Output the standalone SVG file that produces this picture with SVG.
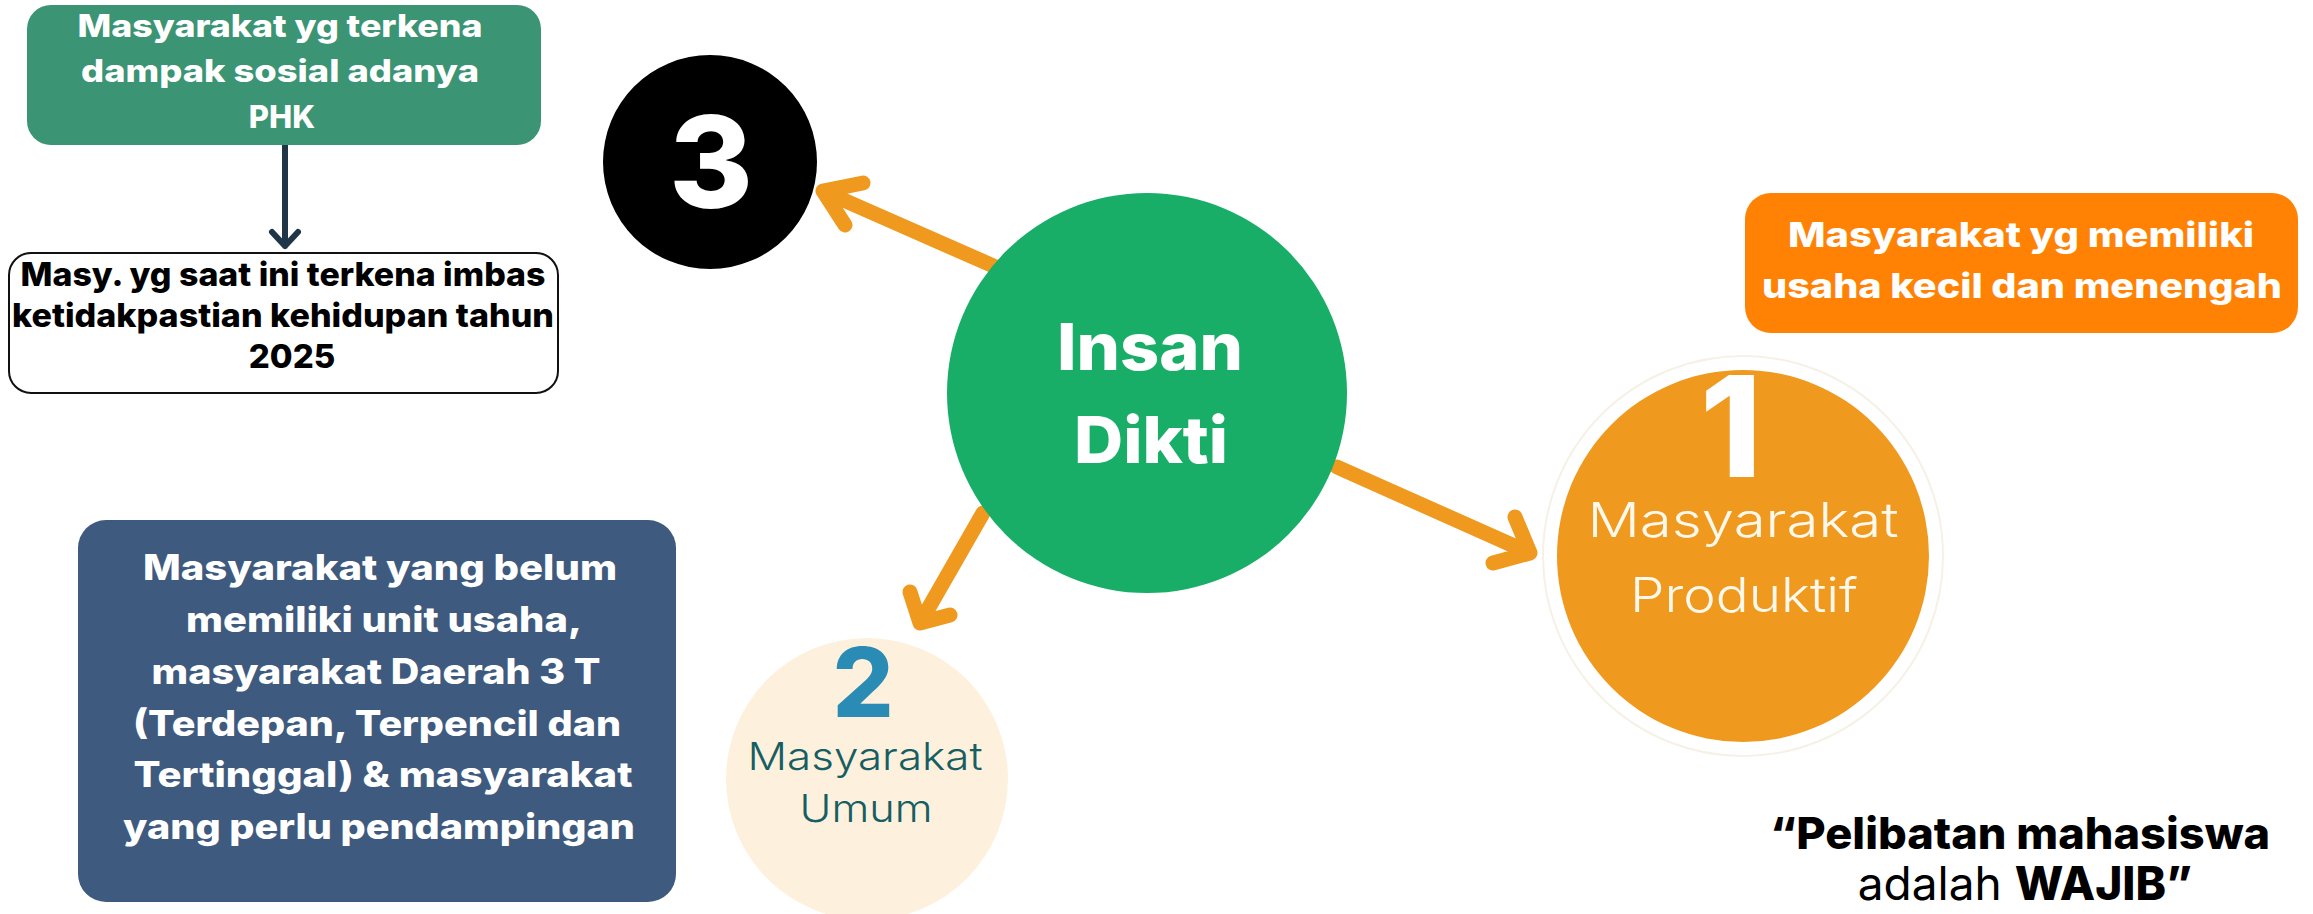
<svg xmlns="http://www.w3.org/2000/svg" width="2313" height="914" viewBox="0 0 2313 914">
<defs>
<style>
text{font-family:Inter,"Noto Sans","Liberation Sans",sans-serif;text-anchor:middle}
.b{font-weight:800}
.w{fill:#ffffff}
.conn{fill:none;stroke:#F0991F;stroke-width:15;stroke-linecap:round;stroke-linejoin:round}
.dark{fill:none;stroke:#1F3548;stroke-width:6;stroke-linecap:round;stroke-linejoin:round}
</style>
</defs>
<rect width="2313" height="914" fill="#ffffff"/>
<g id="connectors">
<path class="conn" d="M998,268 L823,191 M863,183 L823,191 L845,225"/>
<path class="conn" d="M983,513 L920,623 M910,592 L920,623 L950,615"/>
<path class="conn" d="M1337,467 L1530,553 M1515,517 L1530,553 L1493,563"/>
<path class="dark" d="M285,145 L285,246 M272,232 L285,246 L298,232"/>
</g>
<g id="box-phk">
<rect x="27" y="5" width="514" height="140" rx="24" fill="#3B9473"/>
<text class="b w" font-size="31" x="280" y="37" textLength="405" lengthAdjust="spacingAndGlyphs">Masyarakat yg terkena</text>
<text class="b w" font-size="31" x="280" y="82" textLength="398" lengthAdjust="spacingAndGlyphs">dampak sosial adanya</text>
<text class="b w" font-size="31" x="282" y="128">PHK</text>
</g>
<g id="box-imbas">
<rect x="9" y="253" width="549" height="140" rx="22" fill="#ffffff" stroke="#111" stroke-width="2"/>
<text class="b" font-size="33" x="283" y="286" fill="#000" textLength="525" lengthAdjust="spacingAndGlyphs">Masy. yg saat ini terkena imbas</text>
<text class="b" font-size="33" x="283" y="327" fill="#000" textLength="542" lengthAdjust="spacingAndGlyphs">ketidakpastian kehidupan tahun</text>
<text class="b" font-size="33" x="292" y="368" fill="#000">2025</text>
</g>
<g id="node-3">
<circle cx="710" cy="162" r="107" fill="#000"/>
<text class="b w" font-size="128" x="711" y="208">3</text>
</g>
<g id="node-insan-dikti">
<circle cx="1147" cy="393" r="200" fill="#18AE68"/>
<text class="b w" font-size="65" x="1150" y="370" textLength="186" lengthAdjust="spacingAndGlyphs">Insan</text>
<text class="b w" font-size="65" x="1151" y="463" textLength="154" lengthAdjust="spacingAndGlyphs">Dikti</text>
</g>
<g id="box-ukm">
<rect x="1745" y="193" width="553" height="140" rx="26" fill="#FF8205"/>
<text class="b w" font-size="34" x="2021" y="247" textLength="466" lengthAdjust="spacingAndGlyphs">Masyarakat yg memiliki</text>
<text class="b w" font-size="34" x="2022" y="298" textLength="520" lengthAdjust="spacingAndGlyphs">usaha kecil dan menengah</text>
</g>
<g id="node-1">
<circle cx="1743" cy="556" r="200" fill="none" stroke="#F6F1E6" stroke-width="2"/>
<circle cx="1743" cy="556" r="186" fill="#F0991F"/>
<text class="b w" font-size="140" x="1731" y="477">1</text>
<text font-size="48" font-weight="300" x="1743" y="537" fill="#FFF8EC" textLength="311" lengthAdjust="spacingAndGlyphs">Masyarakat</text>
<text font-size="48" font-weight="300" x="1744" y="612" fill="#FFF8EC" textLength="228" lengthAdjust="spacingAndGlyphs">Produktif</text>
</g>
<g id="node-2">
<circle cx="867" cy="779" r="141" fill="#FDF1DE"/>
<text class="b" font-size="96" x="863" y="717" fill="#2A8CB4">2</text>
<text font-size="38" font-weight="300" x="865" y="770" fill="#165E61" textLength="235" lengthAdjust="spacingAndGlyphs">Masyarakat</text>
<text font-size="38" font-weight="300" x="866" y="822" fill="#165E61" textLength="133" lengthAdjust="spacingAndGlyphs">Umum</text>
</g>
<g id="box-umum">
<rect x="78" y="520" width="598" height="382" rx="28" fill="#3E5A7E"/>
<text class="b w" font-size="35" x="380" y="580" textLength="474" lengthAdjust="spacingAndGlyphs">Masyarakat yang belum</text>
<text class="b w" font-size="35" x="384" y="632" textLength="396" lengthAdjust="spacingAndGlyphs">memiliki unit usaha,</text>
<text class="b w" font-size="35" x="376" y="684" textLength="449" lengthAdjust="spacingAndGlyphs">masyarakat Daerah 3 T</text>
<text class="b w" font-size="35" x="377" y="736" textLength="488" lengthAdjust="spacingAndGlyphs">(Terdepan, Terpencil dan</text>
<text class="b w" font-size="35" x="383" y="787" textLength="499" lengthAdjust="spacingAndGlyphs">Tertinggal) &amp; masyarakat</text>
<text class="b w" font-size="35" x="379" y="839" textLength="512" lengthAdjust="spacingAndGlyphs">yang perlu pendampingan</text>
</g>
<g id="quote">
<text class="b" font-size="44" x="2020" y="849" fill="#000" textLength="500" lengthAdjust="spacingAndGlyphs">“Pelibatan mahasiswa</text>
<text font-size="46" x="2025" y="900" fill="#000"><tspan font-weight="400">adalah </tspan><tspan font-weight="800">WAJIB”</tspan></text>
</g>
</svg>
